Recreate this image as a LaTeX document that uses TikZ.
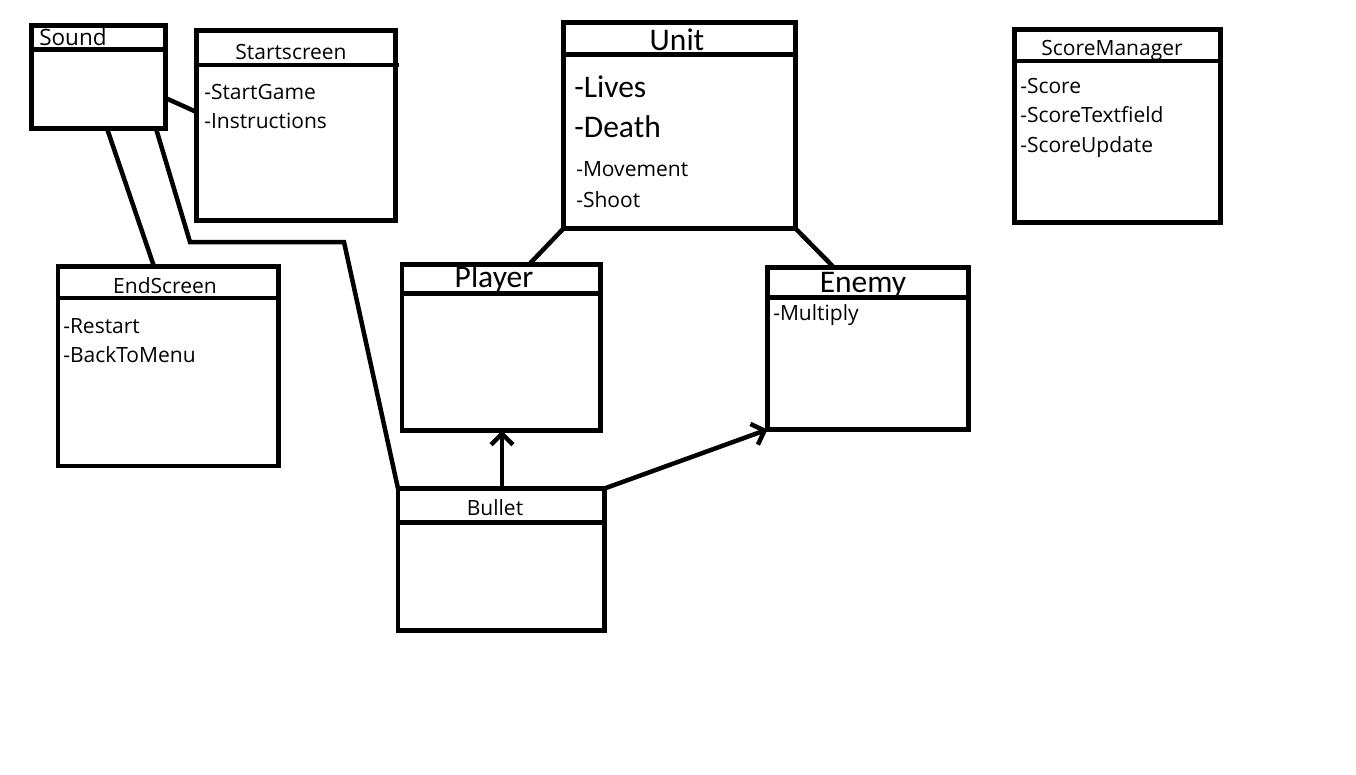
\documentclass[tikz,border=0pt]{standalone}
\usepackage{fontspec}
\setmainfont{Open Sans}
\newfontfamily\calib{Carlito}
\usetikzlibrary{arrows.meta,calc}
\begin{document}
\begin{tikzpicture}[x=1pt,y=-1pt,line width=4.5pt,
  box/.style={draw, rectangle, inner sep=0pt, outer sep=0pt, line width=4.5pt},
  lbl/.style={inner sep=0pt, anchor=base west, font=\fontsize{21}{25}\selectfont},
  ttl/.style={inner sep=0pt, anchor=base, font=\fontsize{21}{25}\selectfont},
  big/.style={inner sep=0pt, font=\calib\fontsize{31.5}{36}\selectfont},
  arr/.style={-{Straight Barb[length=11pt,width=22pt]}}]
\useasboundingbox (0,0) rectangle (1356,774);
\fill[white] (0,0) rectangle (1356,774);

% boxes
\node[box, minimum width=134pt, minimum height=103pt] (sound) at (98.5,77) {};
\node[box, minimum width=199pt, minimum height=190pt] (start) at (296,125.5) {};
\node[box, minimum width=232pt, minimum height=206pt] (unit) at (679.5,125.5) {};
\node[box, minimum width=198.5pt, minimum height=166pt] (player) at (501.25,347.5) {};
\node[box, minimum width=201pt, minimum height=162pt] (enemy) at (868,348.5) {};
\node[box, minimum width=206.5pt, minimum height=142pt] (bullet) at (501.25,559.5) {};
\node[box, minimum width=220.5pt, minimum height=199.5pt] (endscr) at (168.25,366.25) {};
\node[box, minimum width=206pt, minimum height=193pt] (score) at (1117.5,126) {};

% dividers
\draw (sound.west |- 0,49.5) -- (sound.east |- 0,49.5);
\draw (start.west |- 0,65) -- (399,65);
\draw (unit.west |- 0,54.5) -- (unit.east |- 0,54.5);
\draw (player.west |- 0,293.5) -- (player.east |- 0,293.5);
\draw (enemy.west |- 0,297.5) -- (enemy.east |- 0,297.5);
\draw (bullet.west |- 0,522.5) -- (bullet.east |- 0,522.5);
\draw (endscr.west |- 0,298) -- (endscr.east |- 0,298);
\draw (score.west |- 0,61) -- (score.east |- 0,61);

% texts
\node[lbl, font=\fontsize{22.5}{26}\selectfont] (tsound) at (37,45) {Sound};
\node[ttl] (tstart) at (291,59) {Startscreen};
\node[lbl] (ts1) at (202,99) {-StartGame};
\node[lbl] (ts2) at (202,128) {-Instructions};
\node[ttl] (tend) at (165,293) {EndScreen};
\node[lbl] (te1) at (61,333) {-Restart};
\node[lbl] (te2) at (61,362) {-BackToMenu};
\node[ttl] (tscore) at (1112,55) {ScoreManager};
\node[lbl] (tc1) at (1018,93) {-Score};
\node[lbl] (tc2) at (1018,122) {-ScoreTextfield};
\node[lbl] (tc3) at (1018,152) {-ScoreUpdate};
\node[ttl] (tbullet) at (495,515) {Bullet};
\node[big, anchor=base] (tunit) at (677,50) {Unit};
\node[big, anchor=base west] (tu1) at (572,97) {-Lives};
\node[big, anchor=base west] (tu2) at (572,137) {-Death};
\node[lbl] (tu3) at (574,176) {-Movement};
\node[lbl] (tu4) at (574,207) {-Shoot};
\node[big, anchor=base] (tplayer) at (494,287) {Player};
\node[big, anchor=base] (tenemy) at (863,292) {Enemy};
\node[lbl] (tm1) at (771,320) {-Multiply};

% connectors
\draw (sound.east |- 0,98) -- (start.west |- 0,112);
\draw (sound.south -| 107,0) -- (endscr.north -| 154,0);
\draw (sound.south -| 156,0) -- (190,242) -- (344,242) -- (bullet.north west);
\draw (unit.south west) -- (player.north -| 529,0);
\draw (unit.south east) -- (enemy.north -| 834,0);
\draw[arr] (bullet.north -| 502,0) -- (player.south -| 502,0);
\draw[arr] (bullet.north east) -- (enemy.south west);
\end{tikzpicture}
\end{document}
